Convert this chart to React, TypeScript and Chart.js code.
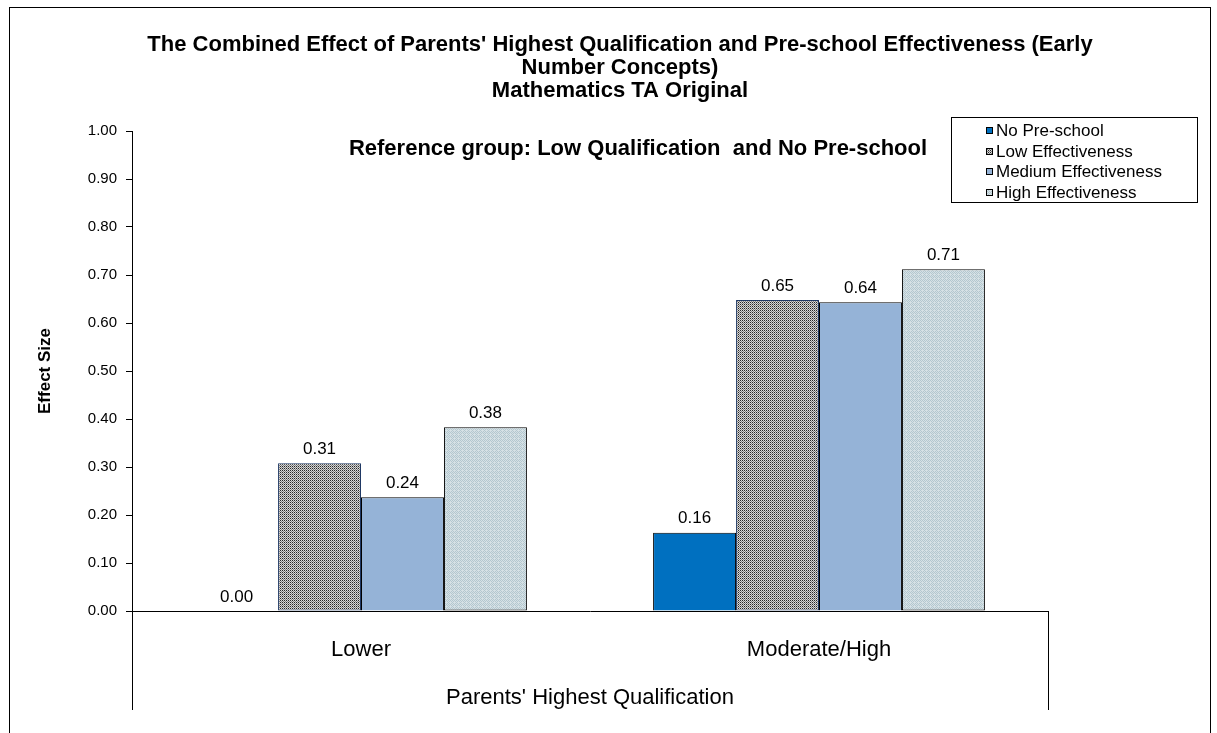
import React, { useEffect, useRef } from 'react';
import { Chart, registerables } from 'chart.js';

Chart.register(...registerables);

const FONT = "'Liberation Sans', Arial, Helvetica, sans-serif";

const categories = ['Lower', 'Moderate/High'];
const seriesLabels = ['No Pre-school', 'Low Effectiveness', 'Medium Effectiveness', 'High Effectiveness'];
const noPreschool = [0.0, 0.163];
const lowEffectiveness = [0.308, 0.648];
const mediumEffectiveness = [0.237, 0.643];
const highEffectiveness = [0.383, 0.712];
const yMin = 0;
const yMax = 1;
const yStep = 0.1;
const titleLines = [
  "The Combined Effect of Parents' Highest Qualification and Pre-school Effectiveness (Early",
  'Number Concepts)',
  'Mathematics TA Original',
];
const referenceNote = 'Reference group: Low Qualification  and No Pre-school';
const xAxisTitle = "Parents' Highest Qualification";
const yAxisTitle = 'Effect Size';

function makePattern(rows: string[][]): CanvasPattern | string {
  const c = document.createElement('canvas');
  c.height = rows.length;
  c.width = rows[0].length;
  const ctx = c.getContext('2d');
  if (!ctx) return '#888';
  rows.forEach((r, y) => r.forEach((col, x) => {
    ctx.fillStyle = col;
    ctx.fillRect(x, y, 1, 1);
  }));
  return ctx.createPattern(c, 'repeat') || '#888';
}

const decorPlugin = {
  id: 'decor',
  afterDatasetsDraw(chart: any) {
    const { ctx } = chart;
    ctx.save();
    ctx.fillStyle = '#000';
    ctx.font = `17px ${FONT}`;
    ctx.textAlign = 'center';
    ctx.textBaseline = 'middle';
    chart.data.datasets.forEach((ds: any, i: number) => {
      const meta = chart.getDatasetMeta(i);
      meta.data.forEach((bar: any, j: number) => {
        const v = ds.data[j] as number;
        ctx.fillText(v.toFixed(2), bar.x, bar.y - 14);
      });
    });
    ctx.restore();
  },
  afterDraw(chart: any) {
    const { ctx, chartArea } = chart;
    ctx.save();
    ctx.strokeStyle = '#000';
    ctx.lineWidth = 1;
    const lx = Math.round(chartArea.left - 0.5) + 0.5;
    const rx = Math.round(chartArea.right - 0.5) + 0.5;
    const by = chartArea.bottom;
    ctx.beginPath();
    ctx.moveTo(lx, by);
    ctx.lineTo(lx, by + 99);
    ctx.moveTo(rx, by);
    ctx.lineTo(rx, by + 99);
    ctx.stroke();

    // outer frame
    ctx.strokeRect(9.5, 7.5, 1201, 740);

    // reference note
    ctx.fillStyle = '#000';
    ctx.font = `bold 22px ${FONT}`;
    ctx.textAlign = 'center';
    ctx.textBaseline = 'middle';
    ctx.fillText(referenceNote, 638, 149);

    // legend
    const bx = 951.5, byy = 117.5, bw = 246, bh = 85;
    ctx.fillStyle = '#fff';
    ctx.fillRect(bx, byy, bw, bh);
    ctx.strokeRect(bx, byy, bw, bh);
    ctx.font = `17px ${FONT}`;
    ctx.textAlign = 'left';
    chart.data.datasets.forEach((ds: any, i: number) => {
      const cy = 131 + i * 20.6;
      ctx.fillStyle = ds.backgroundColor;
      ctx.fillRect(986, Math.round(cy) - 4, 7, 7);
      ctx.strokeStyle = '#000';
      ctx.strokeRect(986.5, Math.round(cy) - 3.5, 6, 6);
      ctx.fillStyle = '#000';
      ctx.fillText(ds.label, 996, cy + 0.5);
    });
    ctx.restore();
  },
};

export default function App() {
  const ref = useRef<HTMLCanvasElement | null>(null);

  useEffect(() => {
    if (!ref.current) return;
    const D = '#262626', L = '#d6d6d6', M = '#808080';
    const lowPattern = makePattern([
      [D, L, D, L],
      [L, M, L, M],
      [D, L, D, L],
      [L, M, L, M],
    ]);
    const A = '#b3c7cf', B = '#d6e1e5';
    const highPattern = makePattern([
      [A, B, A, B],
      [B, A, B, A],
      [A, B, B, B],
      [B, A, B, A],
    ]);

    const chart = new Chart(ref.current, {
      type: 'bar',
      data: {
        labels: categories,
        datasets: [
          { label: seriesLabels[0], data: noPreschool, backgroundColor: '#0070C0', borderColor: '#000', borderWidth: 1 },
          { label: seriesLabels[1], data: lowEffectiveness, backgroundColor: lowPattern as any, borderColor: '#1F3864', borderWidth: 1, borderSkipped: false },
          { label: seriesLabels[2], data: mediumEffectiveness, backgroundColor: '#95B3D7', borderColor: '#000', borderWidth: 1 },
          { label: seriesLabels[3], data: highEffectiveness, backgroundColor: highPattern as any, borderColor: '#000', borderWidth: 1, borderSkipped: false },
        ],
      },
      options: {
        responsive: false,
        animation: false,
        devicePixelRatio: 1,
        layout: { padding: { left: 23, right: 0, top: 0, bottom: 0 } },
        datasets: { bar: { categoryPercentage: 0.7245, barPercentage: 1 } },
        plugins: {
          legend: { display: false },
          tooltip: { enabled: false },
          title: {
            display: true,
            text: titleLines,
            color: '#000',
            font: { family: FONT, size: 22, weight: 'bold', lineHeight: 23 / 22 },
            padding: { top: 33.5, bottom: 28.5 },
          },
        },
        scales: {
          x: {
            type: 'category',
            grid: { display: false, drawTicks: false },
            border: { display: true, color: '#000', width: 1 },
            ticks: { color: '#000', font: { family: FONT, size: 22 }, padding: 26, maxRotation: 0, autoSkip: false },
            title: { display: true, text: xAxisTitle, color: '#000', font: { family: FONT, size: 22 }, padding: { top: 0, bottom: 22 } },
            afterFit: (s: any) => { s.height = 122; },
          },
          y: {
            type: 'linear',
            min: yMin,
            max: yMax,
            grid: { display: true, drawOnChartArea: false, drawTicks: true, tickLength: 6, color: '#000' },
            border: { display: true, color: '#000', width: 1 },
            ticks: {
              stepSize: yStep,
              color: '#000',
              font: { family: FONT, size: 15 },
              padding: 9,
              callback: (v: any) => Number(v).toFixed(2),
            },
            title: { display: true, text: yAxisTitle, color: '#000', font: { family: FONT, size: 17, weight: 'bold' }, padding: { top: 12, bottom: 0 } },
            afterFit: (s: any) => { s.width = 109; },
          },
          y2: {
            type: 'linear',
            position: 'right',
            display: true,
            grid: { display: false, drawTicks: false },
            border: { display: false },
            ticks: { display: false },
            afterFit: (s: any) => { s.width = 169; },
          },
        },
      },
      plugins: [decorPlugin],
    } as any);
    return () => chart.destroy();
  }, []);

  return (
    <div style={{ position: 'absolute', left: 0, top: 0, width: 1217, height: 733, background: '#fff' }}>
      <canvas ref={ref} width={1217} height={733} style={{ width: 1217, height: 733, display: 'block' }} />
    </div>
  );
}
